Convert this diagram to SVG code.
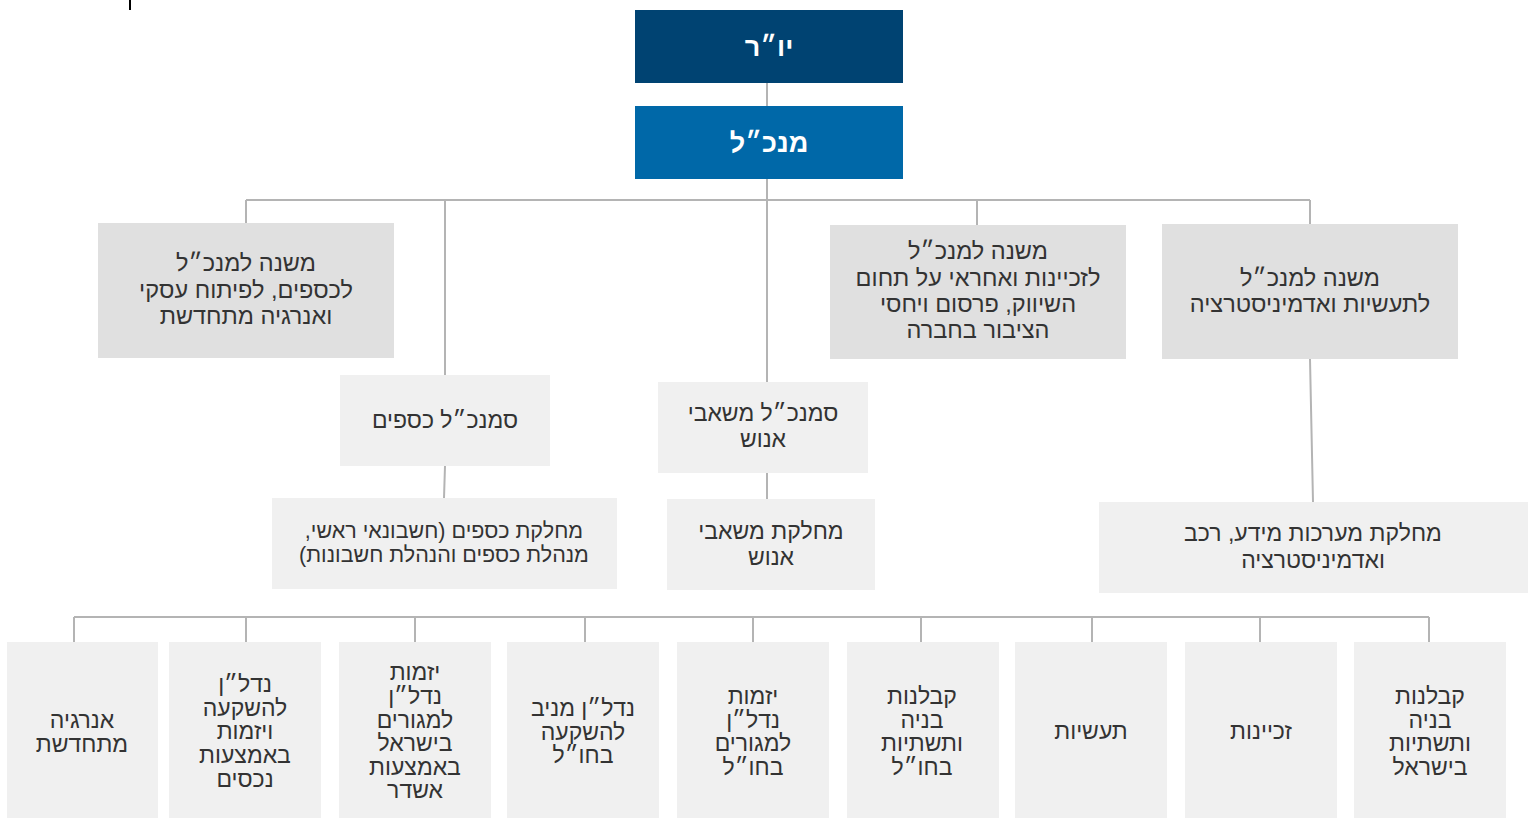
<svg xmlns="http://www.w3.org/2000/svg" width="1538" height="818" viewBox="0 0 1538 818">
<style>
text{font-family:"Liberation Sans","DejaVu Sans",Arial,sans-serif;direction:rtl;text-anchor:middle;fill:#333333;font-size:23px}
.t{fill:#ffffff;font-weight:bold;font-size:27px}
.big{font-size:23.5px}
.sm{font-size:21.5px}
.l2{fill:#e0e0e0}
.l3{fill:#f0f0f0}
.c{stroke:#b4b4b4;stroke-width:2;fill:none}
</style>
<rect width="1538" height="818" fill="#ffffff"/>
<rect x="129" y="0" width="2" height="10" fill="#000000"/>
<g id="connectors" class="c">
<path d="M767 83V106M767 179V382M246 200H1310M246 200V223M445 200V375M977 200V225M1310 200V224M445 466L444 498M767 473V499M1310 359L1313 502"/>
<path d="M74 617H1429M74 617V642M246 617V642M415 617V642M585 617V642M753 617V642M921 617V642M1092 617V642M1260 617V642M1429 617V642"/>
</g>
<g id="chair"><rect x="635" y="10" width="268" height="73" fill="#004372"/><text class="t" x="769" y="56">יו״ר</text></g>
<g id="ceo"><rect x="635" y="106" width="268" height="73" fill="#0068a8"/><text class="t" x="769" y="152">מנכ״ל</text></g>
<g id="deputy-finance" class="big"><rect class="l2" x="98" y="223" width="296" height="135"/>
<text class="big" x="246" y="271">משנה למנכ״ל</text><text class="big" x="246" y="298">לכספים, לפיתוח עסקי</text><text class="big" x="246" y="324">ואנרגיה מתחדשת</text></g>
<g id="deputy-concessions"><rect class="l2" x="830" y="225" width="296" height="134"/>
<text class="big" x="978" y="259">משנה למנכ״ל</text><text class="big" x="978" y="286">לזכיינות ואחראי על תחום</text><text class="big" x="978" y="312">השיווק, פרסום ויחסי</text><text class="big" x="978" y="338">הציבור בחברה</text></g>
<g id="deputy-industry"><rect class="l2" x="1162" y="224" width="296" height="135"/>
<text class="big" x="1310" y="286">משנה למנכ״ל</text><text class="big" x="1310" y="312">לתעשיות ואדמיניסטרציה</text></g>
<g id="vp-finance"><rect class="l3" x="340" y="375" width="210" height="91"/><text x="445" y="428">סמנכ״ל כספים</text></g>
<g id="vp-hr"><rect class="l3" x="658" y="382" width="210" height="91"/><text x="763" y="421">סמנכ״ל משאבי</text><text x="763" y="447">אנוש</text></g>
<g id="dept-finance"><rect class="l3" x="272" y="498" width="345" height="91"/><text class="sm" x="444" y="538">מחלקת כספים (חשבונאי ראשי,</text><text class="sm" x="444" y="562">מנהלת כספים והנהלת חשבונות)</text></g>
<g id="dept-hr"><rect class="l3" x="667" y="499" width="208" height="91"/><text x="771" y="539">מחלקת משאבי</text><text x="771" y="565">אנוש</text></g>
<g id="dept-it"><rect class="l3" x="1099" y="502" width="429" height="91"/><text x="1313" y="541">מחלקת מערכות מידע, רכב</text><text x="1313" y="568">ואדמיניסטרציה</text></g>
<g id="unit-energy"><rect class="l3" x="7" y="642" width="151" height="176"/><text x="82" y="728">אנרגיה</text><text x="82" y="752">מתחדשת</text></g>
<g id="unit-re-assets"><rect class="l3" x="169" y="642" width="152" height="176"/><text x="245" y="692">נדל״ן</text><text x="245" y="716">להשקעה</text><text x="245" y="739">ויזמות</text><text x="245" y="763">באמצעות</text><text x="245" y="787">נכסים</text></g>
<g id="unit-ashdar"><rect class="l3" x="339" y="642" width="152" height="176"/><text x="415" y="680">יזמות</text><text x="415" y="704">נדל״ן</text><text x="415" y="728">למגורים</text><text x="415" y="751">בישראל</text><text x="415" y="775">באמצעות</text><text x="415" y="798">אשדר</text></g>
<g id="unit-re-abroad"><rect class="l3" x="507" y="642" width="152" height="176"/><text x="583" y="716">נדל״ן מניב</text><text x="583" y="740">להשקעה</text><text x="583" y="763">בחו״ל</text></g>
<g id="unit-resid-abroad"><rect class="l3" x="677" y="642" width="152" height="176"/><text x="753" y="704">יזמות</text><text x="753" y="728">נדל״ן</text><text x="753" y="751">למגורים</text><text x="753" y="775">בחו״ל</text></g>
<g id="unit-construction-abroad"><rect class="l3" x="847" y="642" width="152" height="176"/><text x="922" y="704">קבלנות</text><text x="922" y="728">בניה</text><text x="922" y="751">ותשתיות</text><text x="922" y="775">בחו״ל</text></g>
<g id="unit-industry"><rect class="l3" x="1015" y="642" width="152" height="176"/><text x="1091" y="739">תעשיות</text></g>
<g id="unit-concessions"><rect class="l3" x="1185" y="642" width="152" height="176"/><text x="1261" y="739">זכיינות</text></g>
<g id="unit-construction-israel"><rect class="l3" x="1354" y="642" width="152" height="176"/><text x="1430" y="704">קבלנות</text><text x="1430" y="728">בניה</text><text x="1430" y="751">ותשתיות</text><text x="1430" y="775">בישראל</text></g>
</svg>
